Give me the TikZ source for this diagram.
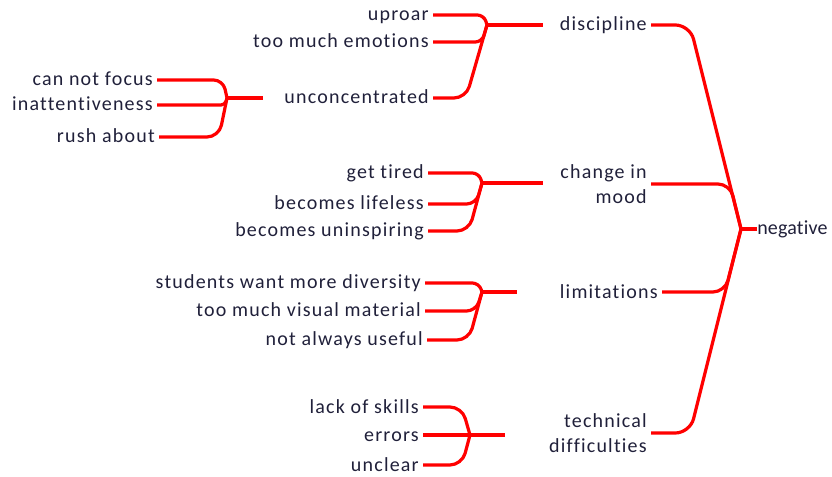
\documentclass[tikz,border=0pt]{standalone}
\usepackage{fontspec}
\setmainfont{Carlito}[LetterSpace=6, Ligatures=NoCommon]
\usetikzlibrary{calc}
\definecolor{txtcol}{HTML}{20203A}
\colorlet{lcol}{red}
% child -> bend -> hub, bend sits #4 px left of the hub
\newcommand{\twig}[4][9pt]{\draw[link, rounded corners=#1] (#2.east) -- ($(#2.east -| #3)+(-#4,0)$) -- (#3);}

\begin{document}
\begin{tikzpicture}[x=0.75pt, y=-0.75pt]
\tikzstyle{leaf}=[anchor=east, inner xsep=3pt, inner ysep=0pt, text height=11pt, text depth=2pt, text=txtcol, font=\fontsize{15}{18.75}\selectfont]
\tikzstyle{topic}=[anchor=east, inner xsep=3pt, inner ysep=0pt, align=right, text=txtcol, font=\fontsize{15}{18.75}\selectfont]
\tikzstyle{link}=[line width=2.4pt, lcol]

\useasboundingbox (0,0) rectangle (832,477);

% hubs and loose ends
\coordinate (HN) at (741,229);
\coordinate (HD) at (487,25);
\coordinate (HU) at (227,98);
\coordinate (HM) at (482,183);
\coordinate (HL) at (482,292);
\coordinate (HT) at (470,435);
\coordinate (dis-in) at (543,25);
\coordinate (unc-in) at (263,98);
\coordinate (moo-in) at (543,183);
\coordinate (lim-in) at (517,292);
\coordinate (tec-in) at (505,435);

% root
\node[leaf, anchor=west, inner xsep=0pt, font=\fontsize{15}{18.75}\selectfont\addfontfeatures{LetterSpace=1}] (neg) at (757,229) {negative};
\draw[link] (HN) -- (neg.west);

% main branches
\node[topic] (dis) at (651,25) {discipline};
\node[topic] (moo) at (651,184) {change in\\mood};
\node[topic] (lim) at (662,292) {limitations};
\node[topic] (tec) at (651,433) {technical\\difficulties};
\twig[11pt]{dis}{HN}{51}
\twig{moo}{HN}{11}
\twig{lim}{HN}{16}
\twig[11pt]{tec}{HN}{51}

% discipline
\node[leaf] (upr) at (433,15) {uproar};
\node[leaf] (emo) at (433,42) {too much emotions};
\node[leaf] (unc) at (433,98) {unconcentrated};
\draw[link] (HD) -- (dis-in);
\twig[5pt]{upr}{HD}{3}
\twig[5pt]{emo}{HD}{5}
\twig{unc}{HD}{21}

% unconcentrated
\node[leaf] (cnf) at (157,80) {can not focus};
\node[leaf] (ina) at (157,105) {inattentiveness};
\node[leaf] (rus) at (159,137) {rush about};
\draw[link] (HU) -- (unc-in);
\twig[7pt]{cnf}{HU}{4}
\twig[3pt]{ina}{HU}{2}
\twig{rus}{HU}{8}

% change in mood
\node[leaf] (tir) at (428,173) {get tired};
\node[leaf] (lif) at (428,204) {becomes lifeless};
\node[leaf] (uni) at (428,231) {becomes uninspiring};
\draw[link] (HM) -- (moo-in);
\twig[5pt]{tir}{HM}{3}
\twig[7pt]{lif}{HM}{6}
\twig{uni}{HM}{13}

% limitations
\node[leaf] (div) at (425,283) {students want more diversity};
\node[leaf] (vis) at (425,311) {too much visual material};
\node[leaf] (use) at (427,340) {not always useful};
\draw[link] (HL) -- (lim-in);
\twig[5pt]{div}{HL}{3}
\twig[7pt]{vis}{HL}{6}
\twig{use}{HL}{13}

% technical difficulties
\node[leaf] (ski) at (423,407) {lack of skills};
\node[leaf] (err) at (423,435) {errors};
\node[leaf] (unl) at (423,465) {unclear};
\draw[link] (HT) -- (tec-in);
\twig{ski}{HT}{8}
\draw[link] (err.east) -- (HT);
\twig{unl}{HT}{8}
\end{tikzpicture}
\end{document}
